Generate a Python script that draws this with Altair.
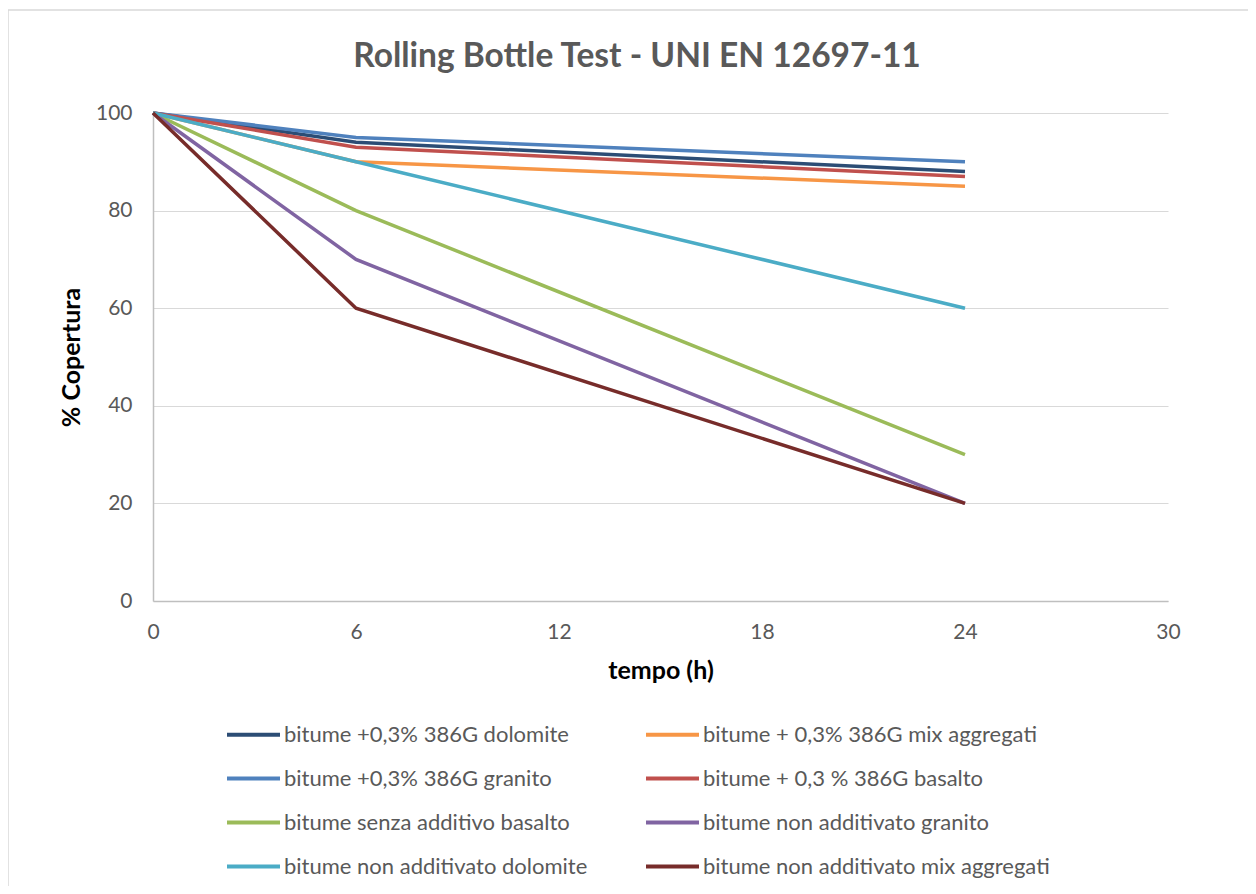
import altair as alt
import pandas as pd

hours = [0, 6, 24]
series_names = [
    "bitume +0,3% 386G dolomite",
    "bitume + 0,3% 386G mix aggregati",
    "bitume +0,3% 386G granito",
    "bitume + 0,3 % 386G basalto",
    "bitume senza additivo basalto",
    "bitume non additivato granito",
    "bitume non additivato dolomite",
    "bitume non additivato mix aggregati",
]
dolomite_add = [100, 94, 88]
mix_add = [100, 90, 85]
granito_add = [100, 95, 90]
basalto_add = [100, 93, 87]
basalto_none = [100, 80, 30]
granito_none = [100, 70, 20]
dolomite_none = [100, 90, 60]
mix_none = [100, 60, 20]
values = [dolomite_add, mix_add, granito_add, basalto_add,
          basalto_none, granito_none, dolomite_none, mix_none]
colors = ["#2C4D75", "#F79646", "#4F81BD", "#C0504D",
          "#9BBB59", "#8064A2", "#4BACC6", "#772C2A"]
x_ticks = [0, 6, 12, 18, 24, 30]
y_ticks = [0, 20, 40, 60, 80, 100]
chart_title = "Rolling Bottle Test - UNI EN 12697-11"

rows = []
for i, (name, vals) in enumerate(zip(series_names, values)):
    for h, v in zip(hours, vals):
        rows.append({"serie": name, "tempo": h, "copertura": v, "ordine": i})
df = pd.DataFrame(rows)

FONT = "Lato"
one = pd.DataFrame({"a": [0]})

border = alt.Chart(one).mark_rect(
    filled=False, stroke="#d9d9d9", strokeWidth=1.5
).encode(
    x=alt.value(-145), x2=alt.value(2000),
    y=alt.value(-103), y2=alt.value(2000)
)

title = alt.Chart(one).mark_text(
    text=chart_title, font=FONT, fontSize=33.5, fontWeight="bold",
    color="#595959", align="center", baseline="alphabetic"
).encode(x=alt.value(484), y=alt.value(-46))

lines = alt.Chart(df).mark_line(strokeWidth=3.5).encode(
    x=alt.X("tempo:Q", title="tempo (h)",
            scale=alt.Scale(domain=[0, 30], nice=False),
            axis=alt.Axis(values=x_ticks, grid=False, ticks=False,
                          labelFlush=False,
                          domainColor="#bfbfbf", domainWidth=1.5,
                          labelPadding=20, titlePadding=16)),
    y=alt.Y("copertura:Q", title="% Copertura",
            scale=alt.Scale(domain=[0, 100], nice=False),
            axis=alt.Axis(values=y_ticks, grid=True, ticks=False,
                          gridColor="#d9d9d9", gridWidth=1.2,
                          domainColor="#bfbfbf", domainWidth=1.5,
                          labelPadding=21, titlePadding=11)),
    color=alt.Color("serie:N",
                    scale=alt.Scale(domain=series_names, range=colors),
                    sort=series_names,
                    legend=alt.Legend(
                        title=None, orient="none", legendX=72, legendY=593,
                        direction="horizontal",
                        columns=2, columnPadding=50, rowPadding=4,
                        symbolType="stroke", symbolSize=2809,
                        symbolStrokeWidth=4, labelOffset=2,
                        labelFontSize=22, labelFont=FONT,
                        labelColor="#595959", labelLimit=500)),
    order=alt.Order("ordine:Q"),
    detail="serie:N",
)

chart = alt.layer(border, lines, title).properties(
    width=1015, height=488,
    autosize=alt.AutoSizeParams(type="none"),
    padding={"left": 145, "top": 105, "right": 80, "bottom": 285},
).configure_view(stroke=None).configure_axis(
    labelFont=FONT, labelFontSize=21, labelColor="#595959",
    titleFont=FONT, titleFontSize=25, titleFontWeight="bold",
    titleColor="#000000"
)

chart.save("out.html", embed_options={"renderer": "svg", "actions": False})
